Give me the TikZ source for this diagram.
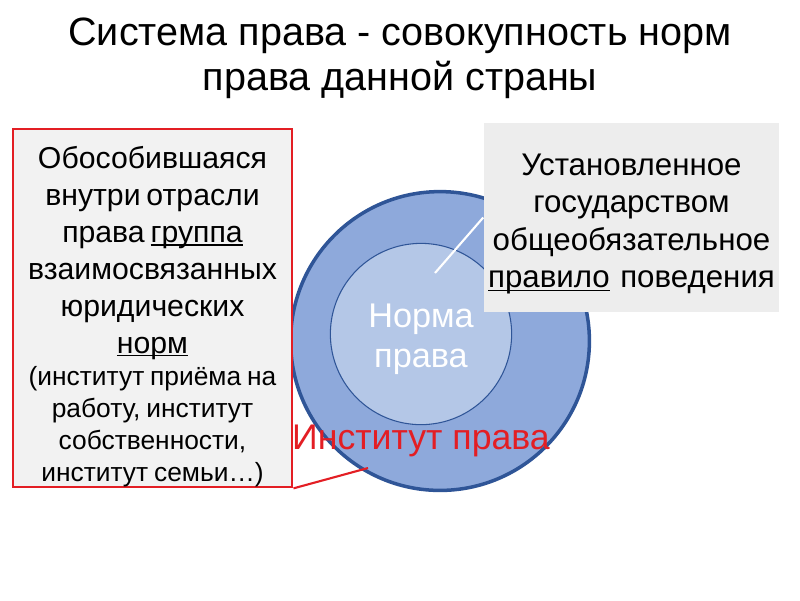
\documentclass[tikz,border=0pt]{standalone}
\usepackage{fontspec}
\setmainfont{Liberation Sans}
\usetikzlibrary{positioning}
\newcommand{\undl}[1]{\leavevmode\setbox0\hbox{#1}\rlap{\rule[-1.8pt]{\wd0}{0.9pt}}\box0\relax}
\definecolor{ringfill}{HTML}{8EA9DB}
\definecolor{ringedge}{HTML}{2F5597}
\definecolor{corefill}{HTML}{B4C7E7}
\definecolor{boxgray}{HTML}{F2F2F2}
\definecolor{notegray}{HTML}{EDEDED}
\definecolor{mred}{HTML}{E31E24}
\tikzstyle{ring} = [circle, minimum size=300pt*0.5669, draw=ringedge, line width=2pt, fill=ringfill]
\tikzstyle{core} = [circle, minimum size=182pt*0.5669, draw=ringedge, line width=0.6pt, fill=corefill]
\tikzstyle{infobox} = [rectangle, minimum width=281pt*0.5669, minimum height=360pt*0.5669, fill=boxgray, draw=mred, line width=1.2pt]
\tikzstyle{note} = [rectangle, minimum width=297pt*0.5669, minimum height=189pt*0.5669, fill=notegray]
\tikzstyle{boxtext} = [text width=275pt*0.5669, align=center, inner sep=0pt]
\tikzstyle{pointer} = [line width=1.2pt]

\begin{document}
\begin{tikzpicture}[x=0.02cm, y=-0.02cm]
  \useasboundingbox (0,0) rectangle (800,600);
  \node (title) at (400,58) [align=center, font=\fontsize{22.5}{25.5}\selectfont]
    {Система права - совокупность норм\\права данной страны};
  % circles
  \node (inst) at (440,341) [ring] {};
  \node (norm) at (421,334) [core] {};
  \node (normtext) at (421,339) [align=center, text=white, font=\fontsize{19.5}{22.5}\selectfont] {Норма\\права};
  \coordinate (tip) at (435,273);
  % right note
  \node (rule) at (631.5,217.5) [note] {};
  \draw [pointer, white] (tip) -- (rule.west);
  \node (ruletext) at (631.5,224) [boxtext, text width=295pt*0.5669, font=\fontsize{17.8}{21.4}\selectfont]
    {Установленное\\государством\\общеобязательное\\\undl{правило} поведения\par};
  % left box
  \node (group) at (152.5,308) [infobox] {};
  \node (grouptext) at (152.5,317) [boxtext]
    {\fontsize{17.2}{21}\selectfont Обособившаяся\\внутри отрасли\\права \undl{группа}\\взаимосвязанных\\юридических\\\undl{норм}\par
     \fontsize{15}{18.3}\selectfont (институт приёма на\\работу, институт\\собственности,\\институт семьи…)\par};
  \node (label) at (421,441) [text=mred, font=\fontsize{20.3}{24}\selectfont] {Институт права};
  \coordinate (hook) at (368,468);
  \draw [pointer, mred] (group.south east) -- (hook);
\end{tikzpicture}
\end{document}
